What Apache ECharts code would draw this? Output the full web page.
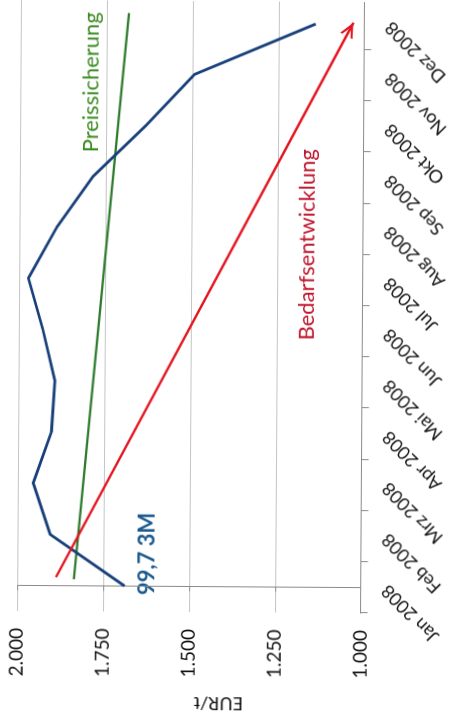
<!DOCTYPE html>
<html>
<head>
<meta charset="utf-8">
<script src="https://cdn.jsdelivr.net/npm/echarts@6/dist/echarts.min.js"></script>
<style>
  html, body { margin: 0; padding: 0; background: #fff; overflow: hidden; }
  #page { position: absolute; left: 0; top: 0; width: 451px; height: 726px; overflow: hidden;
          transform-origin: 190px 306px; transform: rotate(0.37deg); }
  /* the chart is laid out landscape and turned a quarter turn counter-clockwise */
  #chart { position: absolute; left: 0; top: 0; width: 740px; height: 451px;
           transform-origin: 0 0; transform: translate(0, 726px) rotate(-90deg); }
</style>
</head>
<body>
<div id="page"><div id="chart"></div></div>
<script>
// Months of 2008
const months = ['Jan 2008', 'Feb 2008', 'Mrz 2008', 'Apr 2008', 'Mai 2008', 'Jun 2008',
                'Jul 2008', 'Aug 2008', 'Sep 2008', 'Okt 2008', 'Nov 2008', 'Dez 2008'];
// Monthly price, EUR/t
const price = [1688, 1906, 1956, 1904, 1895, 1931, 1974, 1892, 1787, 1634, 1494, 1142];
// Price hedge line [month position, EUR/t]
const hedge = [[0.125, 1836], [11.19, 1686]];
// Demand development arrow [month position, EUR/t]
const demand = [[0.164, 1888], [11.03, 1032]];
// Value axis ticks
const valueTicks = { min: 1000, max: 2000, step: 250 };

const FONT = 'Lato, "Noto Sans", sans-serif';
const chart = echarts.init(document.getElementById('chart'), null, { renderer: 'canvas' });

// open chevron, tip at the centre of its box
const chevron = 'path://M7,15 L14,30 L11.6,30 L7,20.14 L2.4,30 L0,30 Z M7,0 L7.02,0 L7.02,0.02 Z';

// German thousands separator: 1750 -> "1.750"
const fmtThousands = v => Math.floor(v / 1000) + '.' + String(v % 1000).padStart(3, '0');

chart.setOption({
  animation: false,
  backgroundColor: '#fff',
  grid: { left: 114, right: 11.6, top: 19.3, bottom: 87.3, containLabel: false },
  xAxis: [
    {
      type: 'category', data: months, boundaryGap: true,
      axisLine: { lineStyle: { color: '#8a8a8a', width: 1 } },
      axisTick: { show: true, length: 7, interval: 0, lineStyle: { color: '#8a8a8a' } },
      axisLabel: { interval: 0, rotate: 45, margin: 24, padding: [8, 0, 0, 0],
                   fontFamily: FONT, fontSize: 18, color: '#111' },
      splitLine: { show: false }
    },
    { type: 'value', min: -0.5, max: 11.5, show: false }
  ],
  yAxis: {
    type: 'value', min: valueTicks.min, max: valueTicks.max, interval: valueTicks.step,
    axisLine: { show: true, lineStyle: { color: '#8a8a8a', width: 1 } },
    axisTick: { show: true, length: 5, lineStyle: { color: '#8a8a8a' } },
    axisLabel: {
      margin: 17, fontFamily: FONT, fontSize: 19, color: '#111',
      padding: [5, 0, 0, 0],
      formatter: fmtThousands
    },
    splitLine: { show: true, lineStyle: { color: '#c4c4c4', width: 1 } }
  },
  series: [
    {
      name: 'Preis', type: 'line', xAxisIndex: 0, data: price,
      symbol: 'none', smooth: false,
      lineStyle: { color: '#183f7a', width: 2.8 }, z: 3
    },
    {
      name: 'Preissicherung', type: 'line', xAxisIndex: 1, data: hedge,
      symbol: 'none', lineStyle: { color: '#2c7a2a', width: 2.3 }, z: 2
    },
    {
      name: 'Bedarfsentwicklung', type: 'line', xAxisIndex: 1, data: demand,
      symbol: 'none', lineStyle: { opacity: 0 }, z: 4,
      markLine: {
        silent: true, animation: false,
        symbol: ['none', chevron], symbolSize: [14, 30],
        label: { show: false },
        lineStyle: { color: '#e3141f', width: 2.4, type: 'solid', opacity: 1 },
        data: [[{ coord: demand[0] }, { coord: demand[1] }]]
      }
    }
  ],
  graphic: [
    { type: 'text', x: 643, y: 90, style: { text: 'Preissicherung', fontFamily: FONT, fontSize: 22,
      fill: '#3a8a22', align: 'center', verticalAlign: 'middle' } },
    { type: 'text', x: 482, y: 307, style: { text: 'Bedarfsentwicklung', fontFamily: FONT, fontSize: 22,
      fill: '#c0142c', align: 'center', verticalAlign: 'middle' } },
    { type: 'text', x: 172, y: 149, style: { text: '99,7 3M', fontFamily: FONT, fontSize: 22, fontWeight: 'bold',
      fill: '#1b5a8e', align: 'center', verticalAlign: 'middle' } },
    { type: 'text', x: 23, y: 221, rotation: Math.PI / 2, style: { text: 'EUR/t', fontFamily: FONT, fontSize: 18,
      fill: '#111', align: 'center', verticalAlign: 'middle' } }
  ]
});
</script>
</body>
</html>
